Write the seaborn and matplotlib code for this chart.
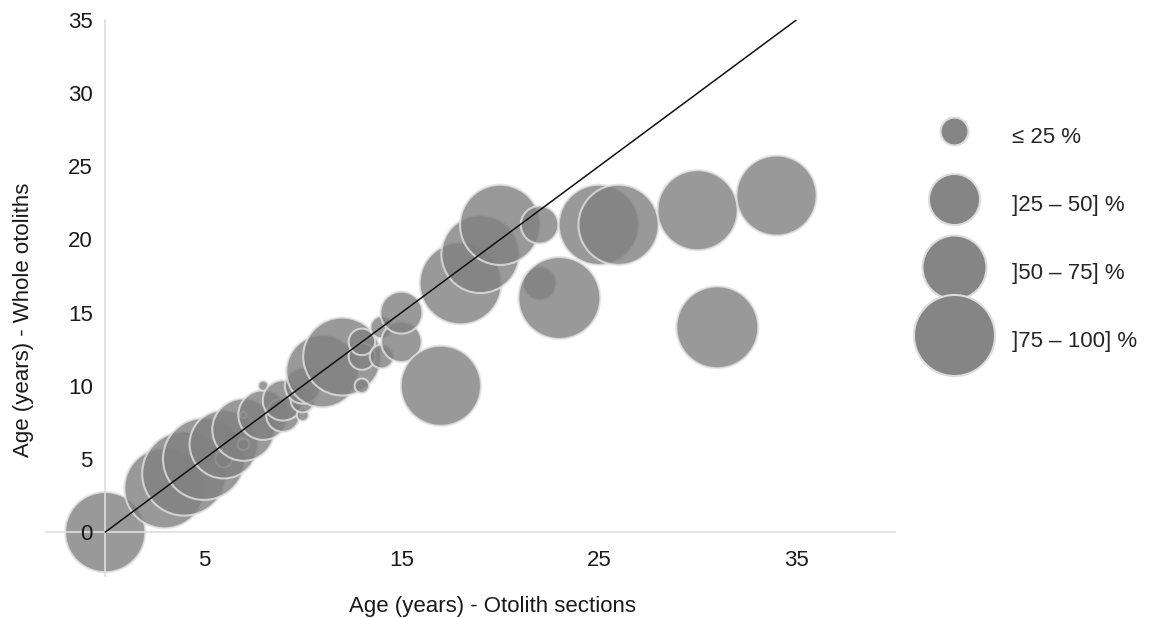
import matplotlib
matplotlib.use("Agg")
import matplotlib.pyplot as plt
import pandas as pd
import seaborn as sns
from matplotlib.lines import Line2D
from matplotlib.ticker import FixedLocator, MultipleLocator

# age read on otolith sections (x) vs whole otoliths (y), bubble = % of fish
sections_age = [0, 3, 4, 5, 6, 6, 7, 7, 7, 8, 8, 9, 9, 10, 10, 10, 11, 12,
                13, 13, 13, 14, 14, 15, 15, 17, 18, 19, 20, 22, 22, 23, 25,
                26, 30, 31, 34]
whole_age = [0, 3, 4, 5, 5, 6, 6, 7, 8, 8, 10, 8, 9, 8, 9, 10, 11, 12,
             10, 12, 13, 12, 14, 13, 15, 10, 17, 19, 21, 17, 21, 16, 21,
             21, 22, 14, 23]
pct_fish = [91, 91, 100, 95, 4, 66, 2, 55, 0.5, 35, 1.4, 16, 23, 2, 8, 18,
            74, 86, 3, 10, 10, 8, 7, 23, 25, 91, 95, 86, 91, 16, 20, 95, 91,
            91, 91, 95, 91]

legend_labels = ["≤ 25 %", "]25 – 50] %", "]50 – 75] %", "]75 – 100] %"]
legend_pct = [11, 37, 58, 93]

line_x = [0, 35]
line_y = [0, 35]

SMAX = 3660  # marker area (pt^2) for 100 %

sns.set_theme(style="white")
plt.rcParams["font.family"] = ["Liberation Sans", "DejaVu Sans"]

df = pd.DataFrame({"sections": sections_age, "whole": whole_age, "pct": pct_fish})
df = df.sort_values(["sections", "whole"]).reset_index(drop=True)

fig = plt.figure(figsize=(11.59, 6.18), dpi=100)
ax = fig.add_axes([46 / 1159, 1 - 576 / 618, 849 / 1159, 556 / 618])

sns.scatterplot(data=df, x="sections", y="whole", size="pct",
                sizes=(0, SMAX), size_norm=(0, 100), color="#808080",
                alpha=0.8, edgecolor="#e3e3e3", linewidth=1.5,
                legend=False, ax=ax, zorder=2, clip_on=False)
ax.plot(line_x, line_y, color="#111111", lw=1.1, zorder=3)

ax.set_xlim(-3, 40)
ax.set_ylim(-3, 35)
ax.set_axisbelow(False)

# axes cross at zero, Excel style
for side in ["top", "right"]:
    ax.spines[side].set_visible(False)
ax.spines["left"].set_position(("data", 0))
ax.spines["bottom"].set_position(("data", 0))
for side in ["left", "bottom"]:
    ax.spines[side].set_color("#dedede")
    ax.spines[side].set_linewidth(1.2)

ax.xaxis.set_major_locator(FixedLocator([5, 15, 25, 35]))
ax.xaxis.set_minor_locator(MultipleLocator(2, offset=1))
ax.yaxis.set_major_locator(MultipleLocator(5))
ax.yaxis.set_minor_locator(MultipleLocator(1))
ax.tick_params(which="both", direction="out", color="#dedede", width=1,
               length=5, labelcolor="#1a1a1a", labelsize=16)
ax.tick_params(axis="x", pad=8)
ax.tick_params(axis="y", pad=4)

ax.set_xlabel("Age (years) - Otolith sections", fontsize=16, color="#1a1a1a")
ax.set_ylabel("Age (years) - Whole otoliths", fontsize=16, color="#1a1a1a")
ax.xaxis.set_label_coords(0.5265, -0.036)
ax.yaxis.set_label_coords(-0.014, 0.46)

handles = [
    Line2D([], [], ls="none", marker="o", markersize=(p / 100 * SMAX) ** 0.5,
           markerfacecolor="#858585", markeredgecolor="#dcdcdc",
           markeredgewidth=1.5)
    for p in legend_pct
]
fig.legend(handles, legend_labels, loc="center left",
           bbox_to_anchor=(921 / 1159, 1 - 238 / 618), frameon=False,
           fontsize=16, handlelength=3, handleheight=2.0, labelspacing=1.52,
           handletextpad=1.1, borderpad=0, borderaxespad=0)

fig.savefig("out.png", dpi=100)
